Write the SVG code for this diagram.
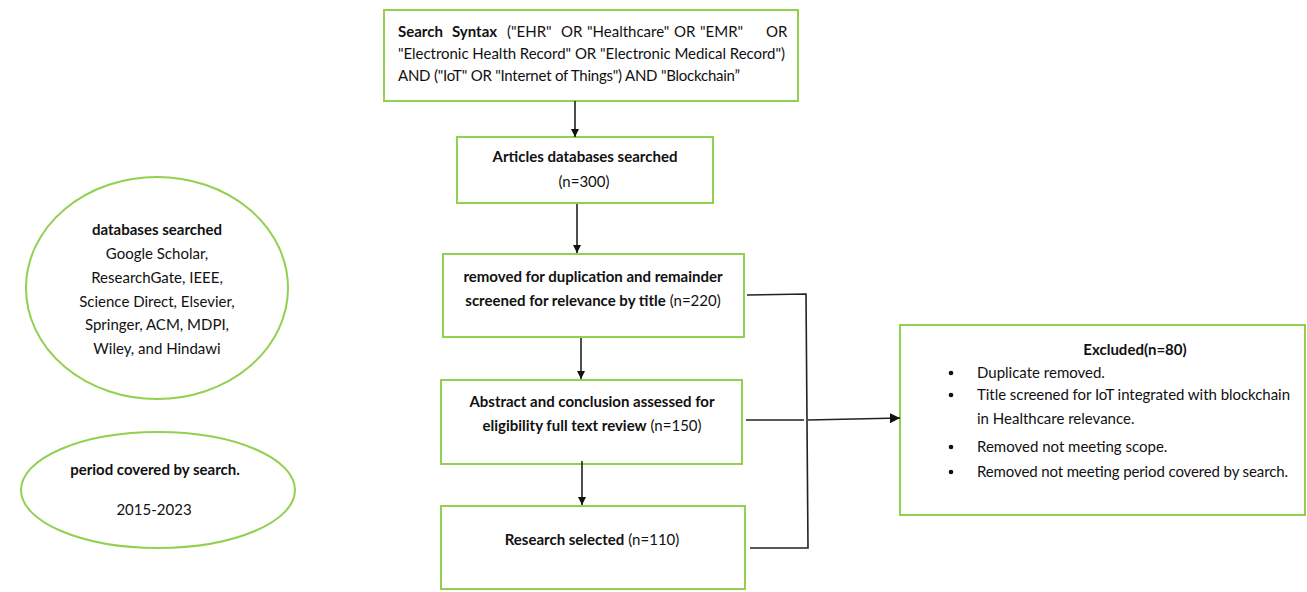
<svg xmlns="http://www.w3.org/2000/svg" width="1307" height="592" viewBox="0 0 1307 592">
<style>
.box{fill:#fff;stroke:#92D050;stroke-width:2}
.t{font-family:Lato,"Liberation Sans",Arial,sans-serif;font-size:15px;fill:#111}
.b{font-weight:bold}
.c{text-anchor:middle}
.ln{stroke:#222;stroke-width:1.6;fill:none}
</style>
<defs>
<marker id="ah" viewBox="0 0 10 10" refX="10" refY="5" markerWidth="8" markerHeight="8" markerUnits="userSpaceOnUse" orient="auto">
<path d="M0,0 L10,5 L0,10 z" fill="#111"/>
</marker>
<marker id="ah2" viewBox="0 0 10 10" refX="10" refY="5" markerWidth="10" markerHeight="10" markerUnits="userSpaceOnUse" orient="auto">
<path d="M0,0 L10,5 L0,10 z" fill="#111"/>
</marker>
</defs>
<rect width="1307" height="592" fill="#fff"/>

<g id="databases">
<ellipse class="box" cx="157" cy="288" rx="131" ry="111"/>
<text class="t b c" x="157" y="235">databases searched</text>
<text class="t c" x="157" y="259">Google Scholar,</text>
<text class="t c" x="157" y="283">ResearchGate, IEEE,</text>
<text class="t c" x="157" y="307">Science Direct, Elsevier,</text>
<text class="t c" x="157" y="330">Springer, ACM, MDPI,</text>
<text class="t c" x="157" y="354">Wiley, and Hindawi</text>
</g>

<g id="period">
<ellipse class="box" cx="158" cy="490" rx="137" ry="58"/>
<text class="t b c" x="155" y="475">period covered by search.</text>
<text class="t c" x="154" y="515">2015-2023</text>
</g>

<g id="search-syntax">
<rect class="box" x="384" y="10" width="414" height="91"/>
<text class="t" y="37"><tspan class="b" x="398">Search</tspan><tspan class="b" x="452">Syntax</tspan><tspan x="507">("EHR"</tspan><tspan x="561">OR</tspan><tspan x="587">"Healthcare"</tspan><tspan x="674">OR</tspan><tspan x="700">"EMR"</tspan><tspan x="766">OR</tspan></text>
<text class="t" x="398" y="59" textLength="387" lengthAdjust="spacing">"Electronic Health Record" OR "Electronic Medical Record")</text>
<text class="t" x="398" y="81" textLength="342" lengthAdjust="spacing">AND ("IoT" OR "Internet of Things") AND "Blockchain”</text>
</g>

<g id="articles">
<rect class="box" x="457" y="137" width="256" height="66"/>
<text class="t b c" x="585" y="162">Articles databases searched</text>
<text class="t c" x="584" y="187">(n=300)</text>
</g>

<g id="removed">
<rect class="box" x="443" y="254" width="301" height="83"/>
<text class="t b c" x="593" y="282">removed for duplication and remainder</text>
<text class="t c" x="593" y="306"><tspan class="b">screened for relevance by title</tspan> (n=220)</text>
</g>

<g id="abstract">
<rect class="box" x="441" y="380" width="301" height="84"/>
<text class="t b c" x="592" y="407">Abstract and conclusion assessed for</text>
<text class="t c" x="592" y="431"><tspan class="b">eligibility full text review</tspan> (n=150)</text>
</g>

<g id="selected">
<rect class="box" x="441" y="506" width="304" height="83"/>
<text class="t c" x="592" y="545"><tspan class="b">Research selected</tspan> (n=110)</text>
</g>

<g id="excluded">
<rect class="box" x="900" y="325" width="405" height="190"/>
<text class="t b c" x="1135" y="355">Excluded(n=80)</text>
<circle cx="951" cy="373" r="2.3" fill="#111"/>
<circle cx="951" cy="395" r="2.3" fill="#111"/>
<circle cx="951" cy="447" r="2.3" fill="#111"/>
<circle cx="951" cy="472" r="2.3" fill="#111"/>
<text class="t" x="977" y="378">Duplicate removed.</text>
<text class="t" x="977" y="400" textLength="313" lengthAdjust="spacing">Title screened for IoT integrated with blockchain</text>
<text class="t" x="977" y="424">in Healthcare relevance.</text>
<text class="t" x="977" y="452">Removed not meeting scope.</text>
<text class="t" x="977" y="477" textLength="311" lengthAdjust="spacing">Removed not meeting period covered by search.</text>
</g>

<g id="connectors">
<line class="ln" x1="575" y1="101" x2="575" y2="137" marker-end="url(#ah)"/>
<line class="ln" x1="577" y1="204" x2="577" y2="253" marker-end="url(#ah)"/>
<line class="ln" x1="581" y1="338" x2="581" y2="379" marker-end="url(#ah)"/>
<line class="ln" x1="582" y1="461" x2="582" y2="505" marker-end="url(#ah)"/>
<polyline class="ln" points="747,295 806,294 808,548 750,548"/>
<line class="ln" x1="746" y1="420" x2="804" y2="420"/>
<line class="ln" x1="808" y1="420" x2="900" y2="418" marker-end="url(#ah2)"/>
</g>
</svg>
